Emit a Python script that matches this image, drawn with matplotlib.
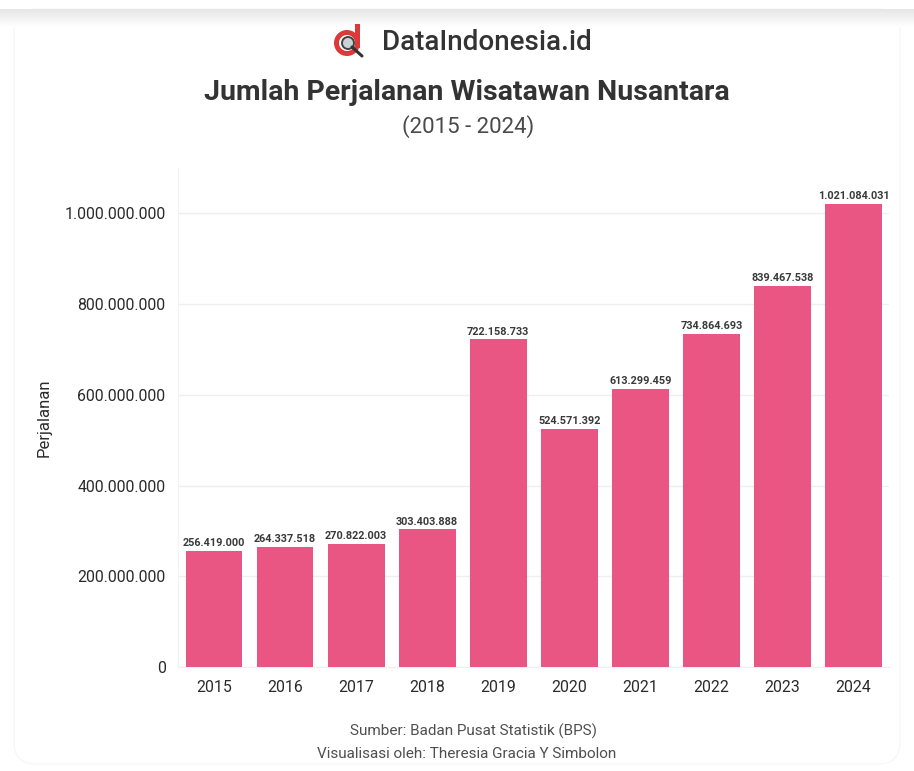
import numpy as np
import matplotlib
matplotlib.use('Agg')
import matplotlib.pyplot as plt
from matplotlib.patches import Circle, FancyBboxPatch, Rectangle, Wedge

years = ['2015', '2016', '2017', '2018', '2019', '2020', '2021', '2022', '2023', '2024']
trips = [256419000, 264337518, 270822003, 303403888, 722158733,
         524571392, 613299459, 734864693, 839467538, 1021084031]
yticks = [0, 200000000, 400000000, 600000000, 800000000, 1000000000]

W, H = 914, 771
BAR = '#e95683'
DARK = '#333333'


def dotted(v):
    return f'{v:,}'.replace(',', '.')


plt.rcParams['font.family'] = ['Roboto', 'DejaVu Sans']

fig = plt.figure(figsize=(W / 100, H / 100), dpi=100, facecolor='white')

# full figure overlay in pixel coordinates, for the card, logo and header
bg = fig.add_axes([0, 0, 1, 1], zorder=0)
bg.axis('off')
bg.add_patch(FancyBboxPatch((14, 9), W - 28, H - 16, boxstyle='round,pad=0,rounding_size=22',
                            fc='white', ec='#f7f7f7', lw=1))
shade = np.linspace(0.9, 1, 20).reshape(-1, 1)
bg.imshow(shade, extent=(0, W, 27, 9), cmap='gray', vmin=0, vmax=1, aspect='auto', zorder=2)
bg.set_xlim(0, W)
bg.set_ylim(H, 0)

# logo: red ring with a stem, magnifier inside
bg.add_patch(Wedge((347, 43), 13, 0, 360, width=5, fc='#dc3a3a', ec='none', zorder=3))
bg.add_patch(Rectangle((355, 24), 5, 24, fc='#dc3a3a', ec='none', zorder=3))
bg.add_patch(Circle((348, 43), 6, fc='#c9d3d6', ec='#444444', lw=1.4, zorder=4))
bg.plot([352, 362], [47, 56], color='#333333', lw=2.2, solid_capstyle='round', zorder=4)

bg.text(487, 40, 'DataIndonesia.id', ha='center', va='center_baseline', fontsize=20,
        color=DARK, fontweight='medium', zorder=5)
bg.text(467, 90, 'Jumlah Perjalanan Wisatawan Nusantara', ha='center', va='center_baseline',
        fontsize=20.5, color=DARK, fontweight='bold', zorder=5)
bg.text(468, 124, '(2015 - 2024)', ha='center', va='center_baseline', fontsize=16,
        color='#4a4a4a', zorder=5)
bg.text(474, 730, 'Sumber: Badan Pusat Statistik (BPS)', ha='center', va='center_baseline',
        fontsize=11, color='#4f4f4f', zorder=5)
bg.text(467, 752, 'Visualisasi oleh: Theresia Gracia Y Simbolon', ha='center', va='center_baseline',
        fontsize=11, color='#4f4f4f', zorder=5)

ax = fig.add_axes([178 / W, 1 - 667 / H, (889 - 178) / W, (667 - 168) / H], zorder=1)
ax.patch.set_alpha(0)
x = np.arange(len(years))
ax.bar(x, trips, width=0.8, color=BAR, zorder=3)
ax.set_xlim(-0.507, 9.5)
ax.set_ylim(0, 1.1e9)

ax.set_xticks(x)
ax.set_xticklabels(years)
ax.set_yticks(yticks)
ax.set_yticklabels([dotted(v) for v in yticks])
ax.tick_params(axis='both', length=0, labelsize=11.4, labelcolor='#2b2b2b')
ax.tick_params(axis='x', pad=9.5)
ax.tick_params(axis='y', pad=9)
ax.grid(axis='y', color='#efefef', lw=1, zorder=0)
ax.set_axisbelow(True)
for side in ['top', 'right']:
    ax.spines[side].set_visible(False)
ax.spines['left'].set_color('#f3f3f3')
ax.spines['bottom'].set_color('#efefef')

for xi, v in zip(x, trips):
    ax.annotate(dotted(v), (xi, v), xytext=(0, 2), textcoords='offset points', ha='center',
                va='bottom', fontsize=7.8, fontweight='bold', color='#3a3a3a', zorder=4,
                annotation_clip=False)

bg.text(44, 418, 'Perjalanan', rotation=90, ha='center', va='center', fontsize=12,
        color='#2b2b2b', zorder=5)

fig.savefig('out.png', dpi=100, facecolor='white')
